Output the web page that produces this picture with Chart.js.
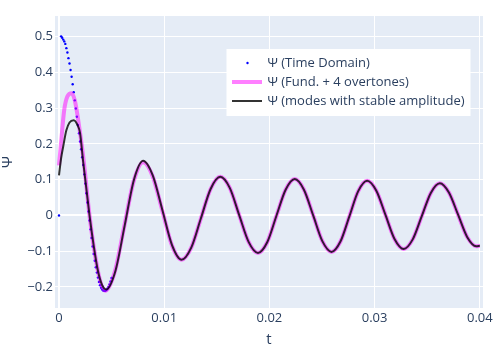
<!DOCTYPE html>
<html>
<head>
<meta charset="utf-8">
<script src="https://cdn.jsdelivr.net/npm/chart.js@4/dist/chart.umd.min.js"></script>
<style>
  html, body { margin: 0; padding: 0; background: #fff; }
  canvas { display: block; }
</style>
</head>
<body>
<canvas id="c" width="500" height="350"></canvas>
<script>
// ticks
var xTicks = [0, 0.01, 0.02, 0.03, 0.04];
var xTickLabels = ['0', '0.01', '0.02', '0.03', '0.04'];
var yTicks = [-0.2, -0.1, 0, 0.1, 0.2, 0.3, 0.4, 0.5];
var yTickLabels = ['\u22120.2', '\u22120.1', '0', '0.1', '0.2', '0.3', '0.4', '0.5'];

// Ψ (Time Domain) samples (hidden under the lines later on)
var tTime = [0, 0.0002, 0.0003, 0.0004, 0.0005, 0.0006, 0.0007, 0.0008, 0.0009, 0.0010,
  0.0011, 0.0012, 0.0013, 0.0014, 0.0015, 0.0016, 0.0017, 0.0018, 0.0019, 0.0020,
  0.0021, 0.0022, 0.0023, 0.0024, 0.0025, 0.0026, 0.0027, 0.0028, 0.0029, 0.0030,
  0.0031, 0.0032, 0.0033, 0.0034, 0.0035, 0.0036, 0.0037, 0.0038, 0.0039, 0.0040,
  0.0041, 0.0042, 0.0043, 0.0044, 0.0045, 0.0046, 0.0047, 0.0048, 0.0049, 0.0050];
var yTime = [0, 0.501, 0.497, 0.492, 0.487, 0.480, 0.468, 0.456, 0.440, 0.425,
  0.407, 0.388, 0.367, 0.345, 0.322, 0.299, 0.276, 0.253, 0.230, 0.207,
  0.185, 0.163, 0.141, 0.115, 0.089, 0.062, 0.036, 0.011, -0.014, -0.039,
  -0.063, -0.087, -0.108, -0.127, -0.145, -0.160, -0.174, -0.186, -0.195, -0.202,
  -0.207, -0.210, -0.211, -0.211, -0.209, -0.205, -0.200, -0.193, -0.185, -0.175];

// Ψ (Fund. + 4 overtones)
var tFund = [0, 0.0002, 0.0005, 0.0008, 0.0012, 0.0015, 0.0018, 0.0023, 0.0029, 0.0033,
  0.0037, 0.0040, 0.0044, 0.0053, 0.0062, 0.0071, 0.0080,
  0.00891, 0.00983, 0.01074, 0.01165, 0.01257, 0.01349, 0.01441, 0.01533,
  0.01623, 0.01712, 0.01802, 0.01891, 0.01979, 0.02066, 0.02154, 0.02241,
  0.02328, 0.02416, 0.02503, 0.02590, 0.02675, 0.02760, 0.02844, 0.02929,
  0.03016, 0.03103, 0.03189, 0.03276, 0.03362, 0.03448, 0.03534, 0.03620,
  0.03706, 0.03793, 0.03879, 0.03965, 0.04000];
var yFund = [0.140, 0.205, 0.296, 0.333, 0.342, 0.322, 0.272, 0.165, 0.000, -0.088,
  -0.156, -0.192, -0.211, -0.158, -0.031, 0.096, 0.149,
  0.109, 0.0125, -0.084, -0.124, -0.090, -0.008, 0.074, 0.108,
  0.077, 0.0015, -0.074, -0.105, -0.075, -0.0015, 0.072, 0.102,
  0.072, 0.000, -0.072, -0.102, -0.073, -0.0025, 0.068, 0.097,
  0.069, 0.0015, -0.066, -0.094, -0.067, -0.002, 0.063, 0.090,
  0.064, 0.002, -0.060, -0.086, -0.085];

// Ψ (modes with stable amplitude)
var tStable = [0, 0.0002, 0.0004, 0.0007, 0.0010, 0.0014, 0.0018, 0.0020, 0.0023, 0.0029,
  0.0033, 0.0037, 0.0041, 0.0045, 0.005375, 0.00625, 0.007125, 0.0080,
  0.00891, 0.00983, 0.01074, 0.01165, 0.01257, 0.01349, 0.01441, 0.01533,
  0.01623, 0.01712, 0.01802, 0.01891, 0.01979, 0.02066, 0.02154, 0.02241,
  0.02328, 0.02416, 0.02503, 0.02590, 0.02675, 0.02760, 0.02844, 0.02929,
  0.03016, 0.03103, 0.03189, 0.03276, 0.03362, 0.03448, 0.03534, 0.03620,
  0.03706, 0.03793, 0.03879, 0.03965, 0.04000];
var yStable = [0.112, 0.160, 0.193, 0.238, 0.260, 0.266, 0.250, 0.231, 0.150, 0.000,
  -0.085, -0.155, -0.195, -0.207, -0.154, -0.027, 0.100, 0.153,
  0.112, 0.0145, -0.083, -0.124, -0.090, -0.008, 0.074, 0.108,
  0.077, 0.0015, -0.074, -0.105, -0.075, -0.0015, 0.072, 0.102,
  0.072, 0.000, -0.072, -0.102, -0.073, -0.0025, 0.068, 0.097,
  0.069, 0.0015, -0.066, -0.094, -0.067, -0.002, 0.063, 0.090,
  0.064, 0.002, -0.060, -0.086, -0.085];

var labels = ['\u03a8 (Time Domain)', '\u03a8 (Fund. + 4 overtones)', '\u03a8 (modes with stable amplitude)'];

function pts(ts, ys) {
  return ts.map(function(t, i) { return {x: t, y: ys[i]}; });
}

var fontFamily = '"Open Sans", verdana, arial, sans-serif';
var textColor = '#2a3f5f';
Chart.defaults.font.family = fontFamily;
Chart.defaults.color = textColor;

// plot background like plotly
var plotBg = {
  id: 'plotBg',
  beforeDraw: function(chart) {
    var a = chart.chartArea, ctx = chart.ctx;
    ctx.save();
    ctx.fillStyle = '#e5ecf6';
    ctx.fillRect(a.left, a.top, a.right - a.left, a.bottom - a.top);
    ctx.restore();
  }
};

// legend box inside the plot, top right
var boxLegend = {
  id: 'boxLegend',
  afterDraw: function(chart) {
    var ctx = chart.ctx;
    var x0 = 226.5, y0 = 49, rows = [63, 82, 101];
    ctx.save();
    ctx.fillStyle = '#ffffff';
    ctx.fillRect(x0, y0, 244, 67);
    chart.data.datasets.forEach(function(ds, i) {
      var y = rows[i];
      if (i === 0) {
        ctx.fillStyle = ds.pointBackgroundColor;
        ctx.beginPath();
        ctx.arc(247.5, y, 1.2, 0, Math.PI * 2);
        ctx.fill();
      } else {
        ctx.strokeStyle = ds.borderColor;
        ctx.lineWidth = ds.borderWidth;
        ctx.beginPath();
        ctx.moveTo(232, y);
        ctx.lineTo(262, y);
        ctx.stroke();
      }
      ctx.fillStyle = textColor;
      ctx.font = '13px ' + fontFamily;
      ctx.textBaseline = 'middle';
      ctx.textAlign = 'left';
      ctx.fillText(ds.label, 267.5, y);
    });
    ctx.restore();
  }
};

function gridWidth(c) { return c.tick && c.tick.value === 0 ? 2 : 1; }

new Chart(document.getElementById('c'), {
  type: 'scatter',
  data: {
    datasets: [
      {
        label: labels[0],
        data: pts(tTime, yTime),
        showLine: false,
        pointRadius: 1.2,
        pointBorderWidth: 0,
        pointBackgroundColor: '#0000ff',
        order: 3
      },
      {
        label: labels[1],
        data: pts(tFund, yFund),
        showLine: true,
        borderColor: 'rgba(255,0,255,0.5)',
        borderWidth: 4,
        pointRadius: 0,
        cubicInterpolationMode: 'monotone',
        order: 2
      },
      {
        label: labels[2],
        data: pts(tStable, yStable),
        showLine: true,
        borderColor: 'rgba(0,0,0,0.8)',
        borderWidth: 2,
        pointRadius: 0,
        cubicInterpolationMode: 'monotone',
        order: 1
      }
    ]
  },
  options: {
    responsive: false,
    animation: false,
    layout: { padding: { top: 16, right: 17, left: 0, bottom: 0 } },
    plugins: { legend: { display: false }, tooltip: { enabled: false } },
    scales: {
      x: {
        type: 'linear',
        min: -0.00038,
        max: 0.0403,
        afterBuildTicks: function(s) { s.ticks = xTicks.map(function(v) { return {value: v}; }); },
        afterFit: function(s) { s.height = 42; },
        ticks: {
          autoSkip: false, maxRotation: 0, padding: 2,
          font: { size: 13 }, color: textColor,
          callback: function(v, i) { return xTickLabels[i]; }
        },
        grid: { color: '#ffffff', lineWidth: gridWidth, drawTicks: false },
        border: { display: false },
        title: { display: true, text: 't', color: textColor,
                 font: { size: 15, lineHeight: 1 }, padding: { top: 0, bottom: 3 } }
      },
      y: {
        type: 'linear',
        min: -0.259,
        max: 0.558,
        afterBuildTicks: function(s) { s.ticks = yTicks.map(function(v) { return {value: v}; }); },
        afterFit: function(s) { s.width = 55; },
        ticks: {
          autoSkip: false, padding: 2,
          font: { size: 13 }, color: textColor,
          callback: function(v, i) { return yTickLabels[i]; }
        },
        grid: { color: '#ffffff', lineWidth: gridWidth, drawTicks: false },
        border: { display: false },
        title: { display: true, text: '\u03a8', color: textColor,
                 font: { size: 15, lineHeight: 1 }, padding: { top: 0, bottom: 0 } }
      }
    }
  },
  plugins: [plotBg, boxLegend]
});
</script>
</body>
</html>
